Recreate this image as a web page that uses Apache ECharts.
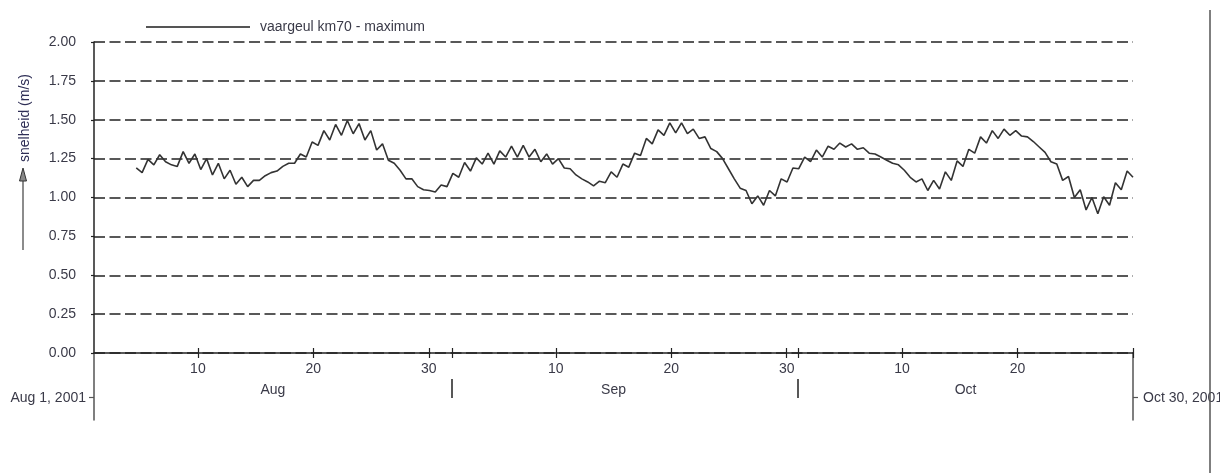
<!DOCTYPE html>
<html>
<head>
<meta charset="utf-8">
<script src="https://cdn.jsdelivr.net/npm/echarts@6/dist/echarts.min.js"></script>
<style>
  html, body { margin: 0; padding: 0; background: #fff; }
  #chart { width: 1220px; height: 473px; }
</style>
</head>
<body>
<div id="chart"></div>
<script>
// Tidal maximum current speed, vaargeul km70, Aug 1 – Oct 30 2001
const seriesName = 'vaargeul km70 - maximum';
const yAxisTitle = 'snelheid (m/s)';

// time is counted in days after Aug 1 2001 00:00
const firstDay = 3.66;   // first tidal maximum in the record
const lastDay = 90;      // last one, Oct 30

// maximum speed (m/s) of each successive tide
const maxima = [
  1.19, 1.16, 1.245, 1.21, 1.275, 1.23, 1.21, 1.20, 1.295, 1.22,
  1.28, 1.18, 1.25, 1.145, 1.22, 1.12, 1.175, 1.085, 1.13, 1.07,
  1.11, 1.11, 1.14, 1.16, 1.17, 1.20, 1.22, 1.22, 1.28, 1.26,
  1.357, 1.335, 1.43, 1.37, 1.47, 1.40, 1.495, 1.41, 1.475, 1.37,
  1.43, 1.305, 1.345, 1.24, 1.22, 1.175, 1.12, 1.12, 1.07, 1.05,
  1.045, 1.035, 1.08, 1.07, 1.155, 1.13, 1.225, 1.17, 1.255, 1.215,
  1.285, 1.215, 1.30, 1.26, 1.33, 1.26, 1.335, 1.26, 1.31, 1.23,
  1.28, 1.215, 1.25, 1.19, 1.185, 1.145, 1.12, 1.10, 1.075, 1.105,
  1.095, 1.165, 1.13, 1.215, 1.195, 1.285, 1.27, 1.38, 1.345, 1.435,
  1.40, 1.48, 1.415, 1.48, 1.41, 1.44, 1.38, 1.39, 1.315, 1.295,
  1.25, 1.185, 1.12, 1.06, 1.045, 0.96, 1.01, 0.95, 1.045, 1.01,
  1.12, 1.10, 1.19, 1.185, 1.26, 1.23, 1.305, 1.26, 1.33, 1.31,
  1.35, 1.325, 1.345, 1.31, 1.32, 1.285, 1.28, 1.26, 1.24, 1.22,
  1.21, 1.175, 1.13, 1.10, 1.12, 1.045, 1.11, 1.055, 1.165, 1.11,
  1.235, 1.20, 1.31, 1.285, 1.39, 1.35, 1.43, 1.38, 1.44, 1.40,
  1.43, 1.395, 1.39, 1.36, 1.325, 1.29, 1.23, 1.215, 1.11, 1.135,
  1.00, 1.05, 0.92, 1.00, 0.895, 1.005, 0.95, 1.095, 1.05, 1.17,
  1.13
];

// x axis: day ticks, day-of-month labels, month names and separators
const dayTicks = [9, 19, 29, 31, 40, 50, 60, 61, 70, 80, 90];
const dayLabelPos = [9, 19, 29, 40, 50, 60, 70, 80];
const dayLabels = ['10', '20', '30', '10', '20', '30', '10', '20'];
const monthBounds = [31, 61];
const monthMid = [15.5, 45, 75.5];
const monthNames = ['Aug', 'Sep', 'Oct'];
const rangeStart = 'Aug 1, 2001';
const rangeEnd = 'Oct 30, 2001';

// y axis
const yMin = 0, yMax = 2, yStep = 0.25;

const step = (lastDay - firstDay) / (maxima.length - 1);
const points = maxima.map((v, i) => [firstDay + i * step, v]);

const ink = '#222';
const textCol = '#3a3a48';
const font = 'Liberation Sans, Arial, sans-serif';
const txt = { color: textCol, fontSize: 14, fontFamily: font };

const chart = echarts.init(document.getElementById('chart'), null, { renderer: 'canvas' });

chart.setOption({
  animation: false,
  backgroundColor: '#fff',
  legend: {
    left: 141, top: 15,
    icon: 'rect', itemWidth: 104, itemHeight: 2,
    textStyle: Object.assign({}, txt, { padding: [0, 0, 0, 5] }),
    data: [seriesName]
  },
  grid: [
    { left: 94, right: 87, top: 42, bottom: 120, outerBoundsMode: 'none', containLabel: false },
    { left: 94, right: 87, top: 353, height: 67, outerBoundsMode: 'none', containLabel: false }
  ],
  xAxis: [
    { // main axis, ticks below the line
      type: 'value', gridIndex: 0, position: 'bottom', min: 0, max: lastDay,
      axisLine: { show: true, lineStyle: { color: ink, width: 1.5 } },
      axisTick: { show: true, length: 5, customValues: dayTicks, lineStyle: { color: ink, width: 1.2 } },
      axisLabel: Object.assign({}, txt, {
        customValues: dayLabelPos, margin: 9,
        formatter: v => dayLabels[dayLabelPos.indexOf(v)] || ''
      }),
      splitLine: { show: false }
    },
    { // same ticks reaching above the line
      type: 'value', gridIndex: 0, position: 'bottom', min: 0, max: lastDay,
      axisLine: { show: false },
      axisTick: { show: true, inside: true, length: 5, customValues: dayTicks, lineStyle: { color: ink, width: 1.2 } },
      axisLabel: { show: false },
      splitLine: { show: false }
    },
    { // month row
      type: 'value', gridIndex: 0, position: 'bottom', min: 0, max: lastDay, offset: 26,
      axisLine: { show: false },
      axisTick: { show: true, length: 19, customValues: monthBounds, lineStyle: { color: ink, width: 1.5 } },
      axisLabel: Object.assign({}, txt, {
        customValues: monthMid, margin: 4,
        formatter: v => monthNames[monthMid.indexOf(v)] || ''
      }),
      splitLine: { show: false }
    },
    {
      type: 'value', gridIndex: 1, min: 0, max: lastDay, show: false
    }
  ],
  yAxis: [
    {
      type: 'value', gridIndex: 0, min: yMin, max: yMax, interval: yStep,
      axisLine: { show: true, lineStyle: { color: ink, width: 1.5 } },
      axisTick: { show: true, length: 3, lineStyle: { color: ink, width: 1.2 } },
      axisLabel: Object.assign({}, txt, { margin: 18, formatter: v => v.toFixed(2) }),
      splitLine: { show: true, lineStyle: { color: ink, width: 1.5, type: [11, 4.5] } }
    },
    { // date range start, left
      type: 'value', gridIndex: 1, position: 'left', min: 0, max: 3,
      axisLine: { show: true, lineStyle: { color: '#555', width: 1.5 } },
      axisTick: { show: true, length: 5, customValues: [1], lineStyle: { color: '#555', width: 1.2 } },
      axisLabel: Object.assign({}, txt, { customValues: [1], margin: 8, formatter: () => rangeStart }),
      splitLine: { show: false }
    },
    { // date range end, right
      type: 'value', gridIndex: 1, position: 'right', min: 0, max: 3,
      axisLine: { show: true, lineStyle: { color: '#555', width: 1.5 } },
      axisTick: { show: true, length: 5, customValues: [1], lineStyle: { color: '#555', width: 1.2 } },
      axisLabel: Object.assign({}, txt, { customValues: [1], margin: 10, formatter: () => rangeEnd }),
      splitLine: { show: false }
    }
  ],
  series: [{
    name: seriesName,
    type: 'line',
    xAxisIndex: 0, yAxisIndex: 0,
    data: points,
    showSymbol: false,
    symbol: 'none',
    lineStyle: { color: '#333', width: 1.6 },
    itemStyle: { color: '#555' },
    z: 5
  }],
  graphic: [
    { // vertical axis title
      type: 'text', x: 25, y: 118, rotation: Math.PI / 2,
      style: { text: yAxisTitle, fill: '#2e2e55', font: '14px ' + font, align: 'center', verticalAlign: 'middle' }
    },
    { // upward arrow under the title
      type: 'line', shape: { x1: 23, y1: 250, x2: 23, y2: 178 },
      style: { stroke: '#666', lineWidth: 1.5 }
    },
    {
      type: 'polygon', shape: { points: [[23, 168], [19.5, 181], [26.5, 181]] },
      style: { fill: '#888', stroke: '#333', lineWidth: 1 }
    },
    { // frame edge on the right
      type: 'line', shape: { x1: 1210, y1: 10, x2: 1210, y2: 473 },
      style: { stroke: '#555', lineWidth: 1.5 }, z: 100
    }
  ]
});
</script>
</body>
</html>
